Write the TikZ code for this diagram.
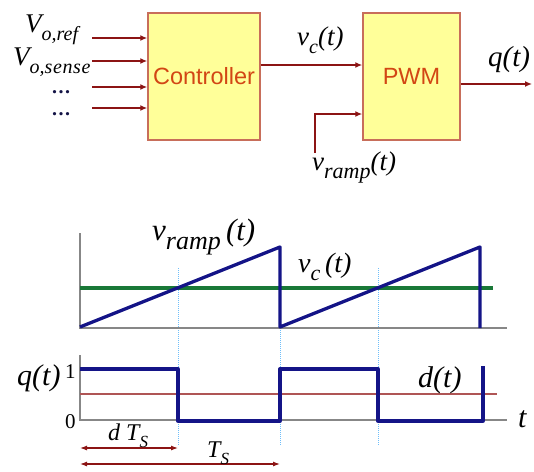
\documentclass[tikz,border=0pt]{standalone}
\usepackage{fontspec}
\setmainfont{Liberation Serif}
\newfontfamily\arialfont{Liberation Sans}
\usetikzlibrary{arrows.meta}
\definecolor{boxfill}{RGB}{255,255,153}
\definecolor{boxline}{RGB}{200,110,90}
\definecolor{sigred}{RGB}{140,20,20}
\definecolor{ctext}{RGB}{210,70,20}
\definecolor{navy}{RGB}{20,20,135}
\definecolor{vgreen}{RGB}{25,120,55}
\definecolor{dotblue}{RGB}{110,190,250}
\definecolor{axgray}{RGB}{135,135,135}
\definecolor{dred}{RGB}{175,85,85}
\definecolor{dotink}{RGB}{20,20,70}
\newcommand{\fs}[1]{\fontsize{#1}{#1}\selectfont}
\newcommand{\lsub}[2]{\raisebox{-0.3em}{\fs{#1}\itshape #2}}
\tikzset{
  blk/.style={draw=boxline, line width=1.5pt, fill=boxfill, text=ctext,
    font=\arialfont\fs{23.5}, inner sep=0pt},
  sig/.style={draw=sigred, line width=1.3pt, -{Latex[length=7pt,width=6pt]}},
  lbl/.style={inner sep=0pt, font=\fs{27}\itshape},
  dotlbl/.style={inner sep=0pt, font=\fs{20}\bfseries, text=dotink},
  axis/.style={draw=axgray, line width=2.2pt},
  wave/.style={draw=navy, line width=3.3pt, line join=round},
  vcline/.style={draw=vgreen, line width=3.3pt},
  guide/.style={draw=dotblue, line width=1pt, densely dotted},
  dim/.style={draw=sigred, line width=1.2pt, {Latex[length=7pt,width=5pt]}-{Latex[length=7pt,width=5pt]}},
}
\begin{document}
\begin{tikzpicture}[x=1pt, y=-1pt]
\useasboundingbox (0,0) rectangle (534,471);
% blocks
\node[blk, minimum width=112pt, minimum height=127pt] (ctrl) at (204,76.5) {Controller};
\node[blk, minimum width=97pt, minimum height=127pt] (pwm) at (411.5,76.5) {PWM};
% input labels
\node[lbl, anchor=base west] (vref) at (25,32) {V\lsub{20}{o,ref}};
\node[lbl, anchor=base west] (vsense) at (13,65) {V\lsub{20}{o,s\kern0.6pt e\kern0.6pt n\kern0.6pt s\kern0.6pt e}};
\node[dotlbl, anchor=base west] (dots1) at (52,93) {.\kern1.5pt.\kern1.5pt.};
\node[dotlbl, anchor=base west] (dots2) at (52,115) {.\kern1.5pt.\kern1.5pt.};
% input arrows
\coordinate (in1) at (92,38);
\coordinate (in2) at (92,61);
\coordinate (in3) at (92,87);
\coordinate (in4) at (92,108);
\foreach \i in {1,2,3,4} {\draw[sig] (in\i) -- (ctrl.west |- in\i);}
% vc arrow
\coordinate (vcy) at (0,65);
\draw[sig] (ctrl.east |- vcy) -- (pwm.west |- vcy);
\node[lbl, anchor=base west] (vclab) at (297,45) {v\lsub{20}{c}(t)};
% ramp arrow
\coordinate (rampstart) at (315,153);
\coordinate (rampy) at (0,114);
\draw[sig] (rampstart) |- (pwm.west |- rampy);
\node[lbl, anchor=base west] (ramplab) at (312,170) {v\lsub{22}{ramp}(t)};
% output
\coordinate (qy) at (0,84);
\coordinate (qend) at (532,84);
\draw[sig] (pwm.east |- qy) -- (qend);
\node[lbl, anchor=base west, font=\fs{29}\itshape] (qlab) at (488,66) {q(t)};

% ---------- ramp plot ----------
\draw[guide] (178,268) -- (178,446);
\draw[guide] (280,268) -- (280,446);
\draw[guide] (378,268) -- (378,446);
\draw[axis] (80,233) -- (80,328) -- (507,328);
\draw[vcline] (80,288) -- (493,288);
\draw[wave] (80,327) -- (280,247) -- (280,327) -- (480,247) -- (480,328);
\node[lbl, anchor=base west, font=\fs{31}\itshape] (vramp2) at (152,240) {v\lsub{26}{ramp}\,(t)};
\node[lbl, anchor=base west, font=\fs{28}\itshape] (vc2) at (298,272) {v\lsub{22}{c}\,(t)};

% ---------- q plot ----------
\draw[axis] (80,355) -- (80,420) -- (507,420);
\draw[draw=dred, line width=1.4pt] (80,394) -- (497,394);
\draw[wave] (80,369) -- (178,369) -- (178,421) -- (280,421) -- (280,369) -- (378,369) -- (378,421) -- (483,421) -- (483,366);
\node[lbl, anchor=base west, font=\fs{30}\itshape] (qlab2) at (17,385) {q(t)};
\node[lbl, anchor=base west, font=\fs{21}] (one) at (65,378) {1};
\node[lbl, anchor=base west, font=\fs{21}] (zero) at (65,428) {0};
\node[lbl, anchor=base west, font=\fs{30}\itshape] (dlab) at (418,387) {d(t)};
\node[lbl, anchor=base west, font=\fs{30}\itshape] (tlab) at (518,427) {t};
% dimension arrows
\coordinate (d1a) at (80,448);
\coordinate (d1b) at (178,448);
\coordinate (d2a) at (80,464);
\coordinate (d2b) at (280,464);
\draw[dim] (d1a) -- (d1b);
\draw[dim] (d2a) -- (d2b);
\node[lbl, anchor=base west, font=\fs{24}\itshape] (dts) at (108,440) {d T\lsub{17}{S}};
\node[lbl, anchor=base west, font=\fs{24}\itshape] (ts) at (207,457) {T\lsub{17}{S}};
\end{tikzpicture}
\end{document}
